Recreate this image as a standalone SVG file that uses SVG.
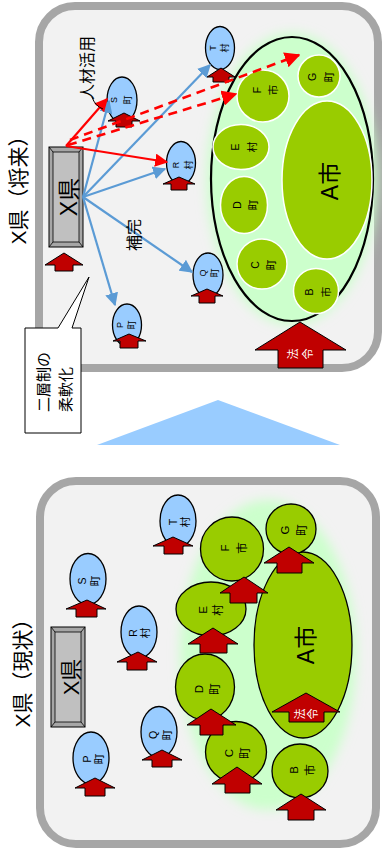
<svg xmlns="http://www.w3.org/2000/svg" width="382" height="857" viewBox="0 0 382 857">
<defs>
<style>
text{font-family:"Liberation Sans","Noto Sans CJK JP",sans-serif;fill:#000}
text,tspan{dominant-baseline:central;text-anchor:middle}
.panel{fill:#f2f2f2;stroke:#a6a6a6;stroke-width:8}
.blue{fill:#99ccff;stroke:#000;stroke-width:1.3}
.gT{fill:#99cc00;stroke:#fff;stroke-width:1.5}
.gB{fill:#99cc00;stroke:#000;stroke-width:1.3}
.ra{fill:#c00000;stroke:#000;stroke-width:1}
.l8{font-size:9px}
.l10{font-size:10.5px}
.l11{font-size:11.5px}
.wt{fill:#fff;font-size:11px}
.bl{stroke:#5b9bd5;stroke-width:2.2;fill:none}
.rd{stroke:#ff0000;stroke-width:2.2;fill:none}
.rdd{stroke:#ff0000;stroke-width:2.6;fill:none;stroke-dasharray:9,6}
</style>
<marker id="mb" viewBox="0 0 10 10" refX="9" refY="5" markerWidth="6" markerHeight="6" markerUnits="strokeWidth" orient="auto"><path d="M0,0 L10,5 L0,10 Z" fill="#5b9bd5"/></marker>
<marker id="mr" viewBox="0 0 10 10" refX="9" refY="5" markerWidth="6" markerHeight="6" markerUnits="strokeWidth" orient="auto"><path d="M0,0 L10,5 L0,10 Z" fill="#ff0000"/></marker>
<filter id="glow" x="-30%" y="-30%" width="160%" height="160%"><feGaussianBlur stdDeviation="6"/></filter>
</defs>

<!-- ===== Top panel: X県（将来） ===== -->
<g id="panel-future">
<rect class="panel" x="39" y="6" width="339" height="362" rx="36"/>
</g>
<text id="title-future" transform="translate(18,185) rotate(-90)" style="font-size:21px">X県（将来）</text>

<g id="group-A-future">
<ellipse cx="292" cy="179" rx="85" ry="146" fill="#ccffcc" filter="url(#glow)"/>
<ellipse cx="292" cy="179" rx="81" ry="142" fill="#ccffcc" stroke="#000" stroke-width="2.2"/>
</g>
<g id="A-future"><ellipse class="gT" cx="327" cy="180" rx="45" ry="79"/><text transform="translate(330,181) rotate(-90)" style="font-size:23px">A市</text></g>
<g id="G-future"><circle class="gT" cx="319" cy="76" r="21"/><text class="l10" transform="translate(320.5,77) rotate(-90)"><tspan x="0" y="-8.5">G</tspan><tspan x="0" y="8.5">町</tspan></text></g>
<g id="F-future"><circle class="gT" cx="263" cy="96" r="26"/><text class="l10" transform="translate(265,90) rotate(-90)"><tspan x="0" y="-8">F</tspan><tspan x="0" y="8">市</tspan></text></g>
<g id="E-future"><ellipse class="gT" cx="241" cy="147" rx="28" ry="22.5"/><text class="l10" transform="translate(243.5,147) rotate(-90)"><tspan x="0" y="-8.5">E</tspan><tspan x="0" y="8.5">村</tspan></text></g>
<g id="D-future"><ellipse class="gT" cx="244" cy="205" rx="23.5" ry="28.5"/><text class="l10" transform="translate(245,205) rotate(-90)"><tspan x="0" y="-8">D</tspan><tspan x="0" y="8">町</tspan></text></g>
<g id="C-future"><circle class="gT" cx="262" cy="264" r="25"/><text class="l10" transform="translate(263,265) rotate(-90)"><tspan x="0" y="-8">C</tspan><tspan x="0" y="8">町</tspan></text></g>
<g id="B-future"><circle class="gT" cx="316" cy="291" r="22.5"/><text class="l10" transform="translate(317.5,292) rotate(-90)"><tspan x="0" y="-8.5">B</tspan><tspan x="0" y="8.5">市</tspan></text></g>

<g id="T-future"><ellipse class="blue" cx="220" cy="48" rx="14.5" ry="21.5"/><polygon class="ra" points="221,68 235,77 229,77 229,82 213,82 213,77 207,77"/><text class="l8" transform="translate(219,48) rotate(-90)"><tspan x="0" y="-6">T</tspan><tspan x="0" y="6">村</tspan></text></g>
<g id="S-future"><ellipse class="blue" cx="122" cy="100" rx="15" ry="23"/><polygon class="ra" points="124,113 140,121 132,121 132,127 116,127 116,121 108,121"/><text class="l8" transform="translate(121,100) rotate(-90)"><tspan x="0" y="-7">S</tspan><tspan x="0" y="7">町</tspan></text></g>
<g id="R-future"><ellipse class="blue" cx="181" cy="163" rx="14.5" ry="21.5"/><polygon class="ra" points="179,177 195,184 187,184 187,190 171,190 171,184 163,184"/><text class="l8" transform="translate(182.5,165) rotate(-90)"><tspan x="0" y="-6.5">R</tspan><tspan x="0" y="6.5">村</tspan></text></g>
<g id="Q-future"><ellipse class="blue" cx="208" cy="275" rx="15" ry="22"/><polygon class="ra" points="207,289 223,296 215,296 215,303 199,303 199,296 191,296"/><text class="l8" transform="translate(209,273) rotate(-90)"><tspan x="0" y="-6">Q</tspan><tspan x="0" y="6">町</tspan></text></g>
<g id="P-future"><ellipse class="blue" cx="127" cy="325" rx="14.5" ry="21"/><polygon class="ra" points="129,334 146,341 138,341 138,348 120,348 120,341 113,341"/><text class="l8" transform="translate(126,325) rotate(-90)"><tspan x="0" y="-6">P</tspan><tspan x="0" y="6">町</tspan></text></g>

<g id="X-future">
<rect x="49" y="147" width="34" height="100" fill="#a6a6a6" stroke="#000" stroke-width="1"/>
<rect x="53" y="152" width="26" height="90" fill="#c0c0c0" stroke="#000" stroke-width="0.8"/>
<path d="M49,147 L53,152 M83,147 L79,152 M49,247 L53,242 M83,247 L79,242" stroke="#000" stroke-width="0.8"/>
<text transform="translate(69,197) rotate(-90)" style="font-size:23px">X県</text>
<polygon class="ra" points="64,253 83,265 73,265 73,271 55,271 55,265 45,265"/>
</g>

<g id="houreki-future"><polygon class="ra" points="300,322 346,350 323,350 323,368 278,368 278,350 255,350"/><text class="wt" transform="translate(300.5,354) rotate(-90)"><tspan x="0" y="-7.5">法</tspan><tspan x="0" y="7.5">令</tspan></text></g>

<g id="connectors">
<line class="bl" x1="83" y1="197" x2="109" y2="101" marker-end="url(#mb)"/>
<line class="bl" x1="83" y1="197" x2="210" y2="65" marker-end="url(#mb)"/>
<line class="bl" x1="83" y1="197" x2="165" y2="169" marker-end="url(#mb)"/>
<line class="bl" x1="83" y1="197" x2="192" y2="272" marker-end="url(#mb)"/>
<line class="bl" x1="83" y1="197" x2="115" y2="305" marker-end="url(#mb)"/>
<line class="rd" x1="66" y1="146" x2="107" y2="99" marker-end="url(#mr)"/>
<line class="rd" x1="66" y1="146" x2="167" y2="162" marker-end="url(#mr)"/>
<line class="rdd" x1="68" y1="145" x2="236" y2="94" marker-end="url(#mr)"/>
<line class="rdd" x1="70" y1="140" x2="299" y2="55" marker-end="url(#mr)"/>
<path d="M92,97 Q95,106 103,109" fill="none" stroke="#000" stroke-width="1"/>
</g>
<text id="label-jinzai" transform="translate(87,68) rotate(-90)" style="font-size:16px">人材活用</text>
<text id="label-hokan" transform="translate(134,235) rotate(-90)" style="font-size:16px">補完</text>

<g id="callout">
<path d="M25,328 L58,328 L89,277 L72,328 L81,328 L81,433 L25,433 Z" fill="#fff" stroke="#000" stroke-width="1"/>
<text transform="translate(43,412) rotate(-90)" style="font-size:15px;text-anchor:start">二層制の</text>
<text transform="translate(65,412) rotate(-90)" style="font-size:15px;text-anchor:start">柔軟化</text>
</g>

<g id="transition-arrow"><polygon points="97,445 340,445 218,400" fill="#99ccff"/></g>

<!-- ===== Bottom panel: X県（現状） ===== -->
<g id="panel-current">
<rect class="panel" x="40" y="481" width="336" height="363" rx="36"/>
</g>
<text id="title-current" transform="translate(22,668) rotate(-90)" style="font-size:21px">X県（現状）</text>

<ellipse cx="268" cy="655" rx="88" ry="155" fill="#ccffcc" filter="url(#glow)"/>

<g id="A-current"><ellipse class="gB" cx="303" cy="645" rx="49" ry="93"/><text transform="translate(306,645) rotate(-90)" style="font-size:23px">A市</text>
<polygon class="ra" points="306,693 340,712 324,712 324,722 289,722 289,712 272,712"/><text class="wt" transform="translate(306.5,714) rotate(-90)"><tspan x="0" y="-6.5">法</tspan><tspan x="0" y="6.5">令</tspan></text></g>
<g id="G-current"><circle class="gB" cx="291" cy="529" r="25"/><text class="l11" transform="translate(293.5,530) rotate(-90)"><tspan x="0" y="-8.5">G</tspan><tspan x="0" y="8.5">町</tspan></text></g>
<g id="F-current"><ellipse class="gB" cx="232" cy="549" rx="31.5" ry="32"/><text class="l11" transform="translate(233.5,548) rotate(-90)"><tspan x="0" y="-8.5">F</tspan><tspan x="0" y="8.5">市</tspan></text></g>
<g id="E-current"><ellipse class="gB" cx="211" cy="609" rx="35" ry="27"/><text class="l11" transform="translate(210.5,610) rotate(-90)"><tspan x="0" y="-7.5">E</tspan><tspan x="0" y="7.5">村</tspan></text></g>
<g id="D-current"><ellipse class="gB" cx="205" cy="687" rx="29.5" ry="33"/><text class="l11" transform="translate(207,689) rotate(-90)"><tspan x="0" y="-8">D</tspan><tspan x="0" y="8">町</tspan></text></g>
<g id="C-current"><circle class="gB" cx="236" cy="752" r="30.5"/><text class="l11" transform="translate(237,753) rotate(-90)"><tspan x="0" y="-8">C</tspan><tspan x="0" y="8">町</tspan></text></g>
<g id="B-current"><ellipse class="gB" cx="300" cy="771" rx="28" ry="27"/><text class="l11" transform="translate(302,770) rotate(-90)"><tspan x="0" y="-8">B</tspan><tspan x="0" y="8">市</tspan></text></g>
<g id="arrows-green-current">
<polygon class="ra" points="289,547 314,563 302,563 302,573 277,573 277,563 264,563"/>
<polygon class="ra" points="244,577 268,593 257,593 257,603 230,603 230,593 220,593"/>
<polygon class="ra" points="213,628 238,644 227,644 227,653 200,653 200,644 188,644"/>
<polygon class="ra" points="211,709 236,725 223,725 223,735 200,735 200,725 187,725"/>
<polygon class="ra" points="237,767 262,784 250,784 250,793 225,793 225,784 212,784"/>
<polygon class="ra" points="301,794 326,810 314,810 314,820 288,820 288,810 276,810"/>
</g>

<g id="T-current"><ellipse class="blue" cx="178" cy="521" rx="18" ry="26"/><polygon class="ra" points="173,537 193,546 183,546 183,554 164,554 164,546 153,546"/><text class="l10" transform="translate(179,522) rotate(-90)"><tspan x="0" y="-6">T</tspan><tspan x="0" y="6">村</tspan></text></g>
<g id="S-current"><ellipse class="blue" cx="88" cy="579" rx="18" ry="25.5"/><polygon class="ra" points="87,600 106,609 97,609 97,617 76,617 76,609 66,609"/><text class="l10" transform="translate(88.5,581) rotate(-90)"><tspan x="0" y="-6.5">S</tspan><tspan x="0" y="6.5">町</tspan></text></g>
<g id="R-current"><ellipse class="blue" cx="139" cy="632" rx="18" ry="26"/><polygon class="ra" points="138,652 157,662 147,662 147,670 127,670 127,662 117,662"/><text class="l10" transform="translate(139,633) rotate(-90)"><tspan x="0" y="-6">R</tspan><tspan x="0" y="6">村</tspan></text></g>
<g id="Q-current"><ellipse class="blue" cx="159" cy="732" rx="18" ry="25.5"/><polygon class="ra" points="162,750 182,760 172,760 172,767 152,767 152,760 142,760"/><text class="l10" transform="translate(160,735) rotate(-90)"><tspan x="0" y="-7">Q</tspan><tspan x="0" y="7">町</tspan></text></g>
<g id="P-current"><ellipse class="blue" cx="91" cy="758" rx="18" ry="26"/><polygon class="ra" points="95,778 115,788 105,788 105,796 85,796 85,788 75,788"/><text class="l10" transform="translate(93,759) rotate(-90)"><tspan x="0" y="-6">P</tspan><tspan x="0" y="6">町</tspan></text></g>

<g id="X-current">
<rect x="51" y="627" width="34" height="100" fill="#a6a6a6" stroke="#000" stroke-width="1"/>
<rect x="55" y="632" width="26" height="90" fill="#c0c0c0" stroke="#000" stroke-width="0.8"/>
<path d="M51,627 L55,632 M85,627 L81,632 M51,727 L55,722 M85,727 L81,722" stroke="#000" stroke-width="0.8"/>
<text transform="translate(71,677) rotate(-90)" style="font-size:22px">X県</text>
</g>
</svg>
